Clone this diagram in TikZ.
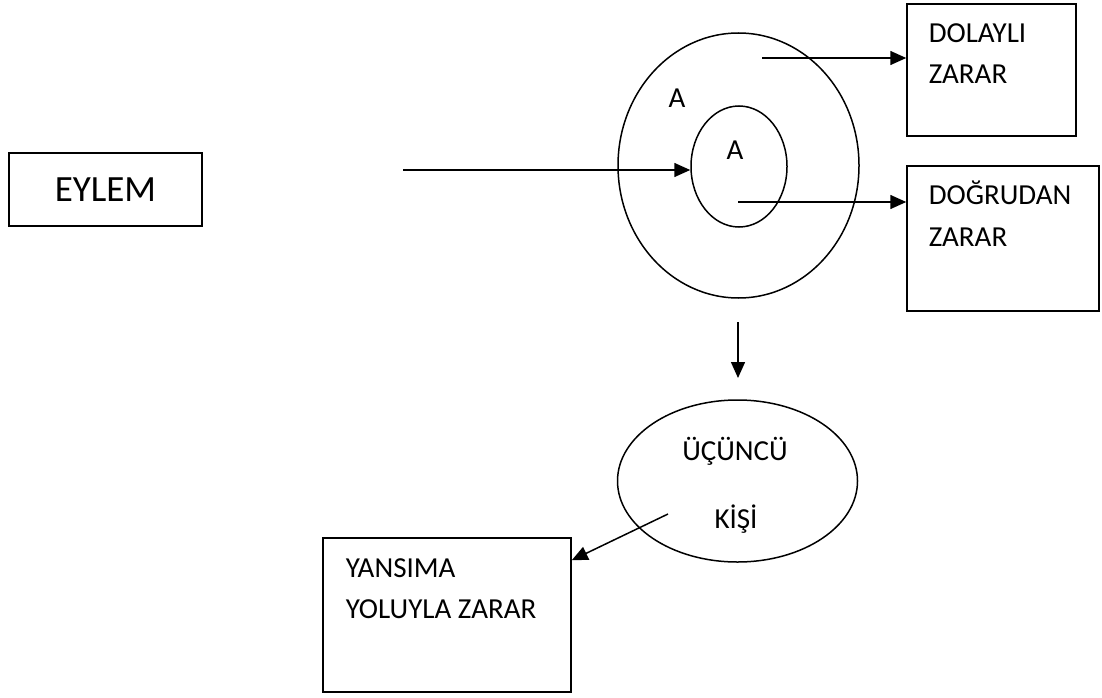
\documentclass[tikz,border=0pt]{standalone}
\usepackage{fontspec}
\setmainfont{Carlito}
\usetikzlibrary{shapes.geometric,arrows.meta}
\begin{document}
\begin{tikzpicture}[x=1pt,y=-1pt,
  line width=1.5pt,
  box/.style={draw, rectangle, inner sep=0pt},
  ring/.style={draw, ellipse, inner sep=0pt},
  lbl/.style={inner sep=0pt, anchor=base west, font=\fontsize{29}{34}\selectfont},
  clbl/.style={inner sep=0pt, anchor=base, font=\fontsize{29}{34}\selectfont},
  arr/.style={-{Triangle[length=16pt,width=14pt]}},
]
\useasboundingbox (0,0) rectangle (1102,698);

% boxes
\node[box, minimum width=193pt, minimum height=73pt, font=\fontsize{37}{42}\selectfont] (eylem) at (105.5,189.5) {EYLEM};
\node[box, minimum width=169pt, minimum height=132pt] (dolayli) at (991.5,70) {};
\node[box, minimum width=192pt, minimum height=145pt] (dogrudan) at (1003,238.5) {};
\node[box, minimum width=248pt, minimum height=154pt] (yansima) at (447,615) {};

% box texts
\node[lbl] (t1) at (928,43) {DOLAYLI};
\node[lbl] (t2) at (928,84) {ZARAR};
\node[lbl] (t3) at (928,204) {DOĞRUDAN};
\node[lbl] (t4) at (928,246) {ZARAR};
\node[lbl] (t5) at (345,577) {YANSIMA};
\node[lbl] (t6) at (345,618) {YOLUYLA ZARAR};

% circles
\node[ring, minimum width=241pt, minimum height=265pt] (outer) at (738.5,165.5) {};
\node[ring, minimum width=96pt, minimum height=121pt] (inner) at (739,166.5) {};
\node[clbl] (aout) at (677,108) {A};
\node[clbl] (ain) at (735,159) {A};

% third person ellipse
\node[ring, minimum width=240pt, minimum height=162pt] (third) at (737.5,481) {};
\node[clbl] (t7) at (735,460) {ÜÇÜNCÜ};
\node[clbl] (t8) at (736,528) {KİŞİ};

% free ends
\coordinate (s1) at (403,170);
\coordinate (s2) at (762,58);
\coordinate (s3) at (738,202);
\coordinate (s4) at (738,322);
\coordinate (e4) at (738,378);
\coordinate (s5) at (668,514);

% connectors
\draw[arr] (s1) -- (s1 -| inner.west);
\draw[arr] (s2) -- (s2 -| dolayli.west);
\draw[arr] (s3) -- (s3 -| dogrudan.west);
\draw[arr] (s4) -- (e4);
\draw[arr] (s5) -- ([yshift=-23pt]yansima.north east);
\end{tikzpicture}
\end{document}
